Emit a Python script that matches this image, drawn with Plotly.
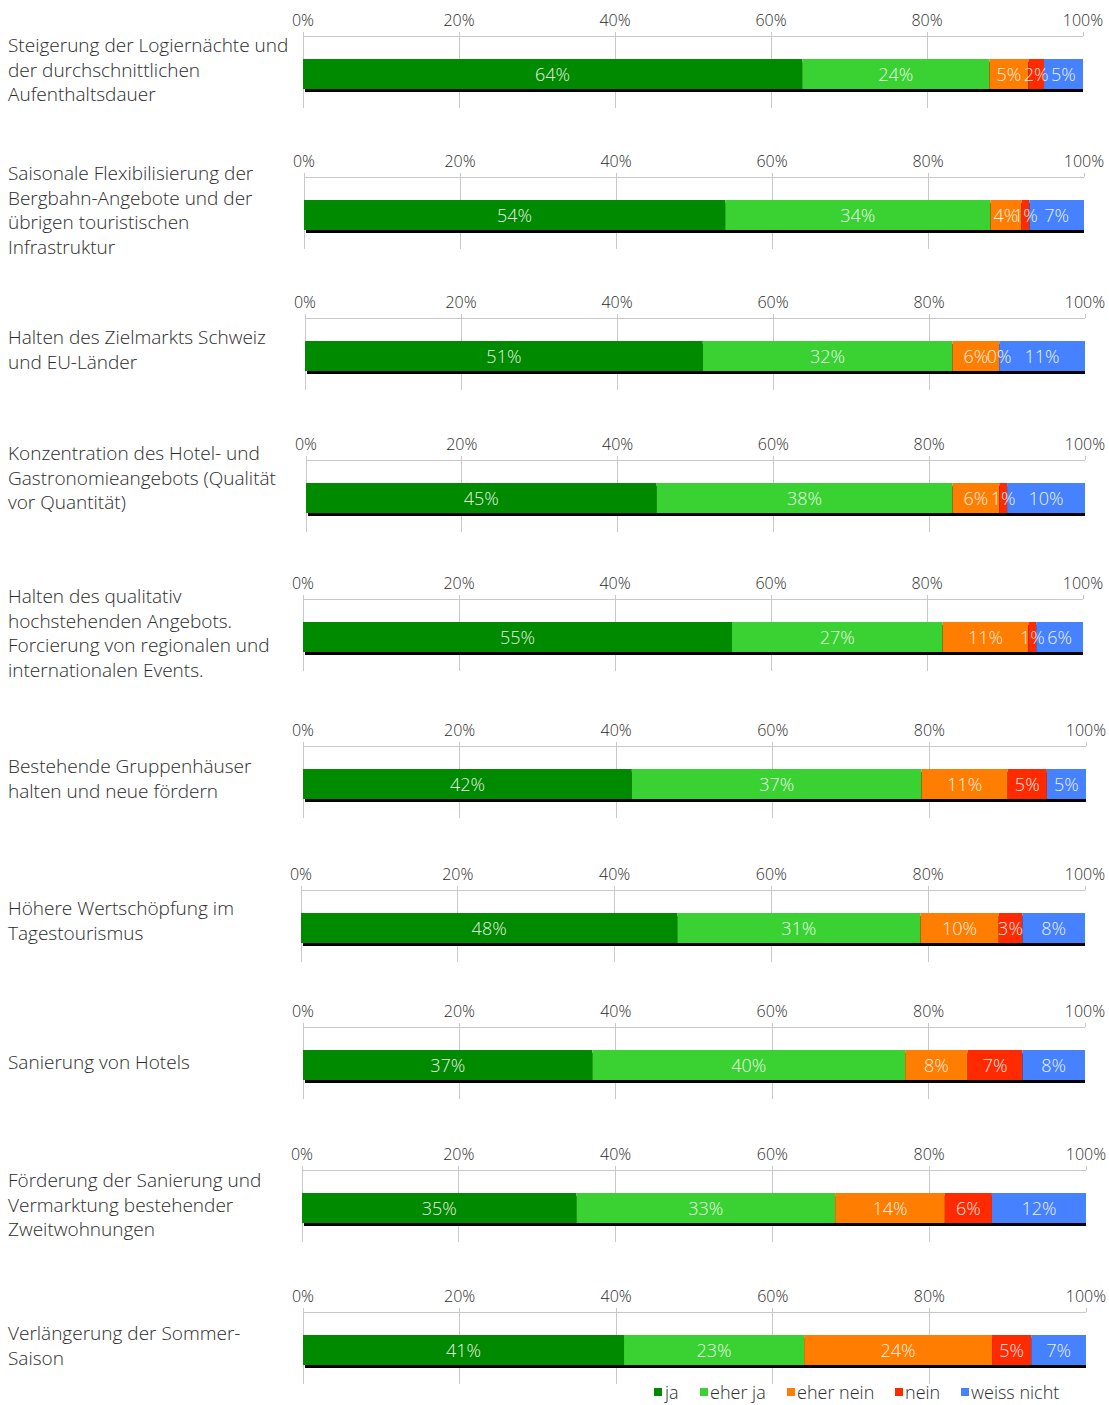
import numpy as np
import plotly.graph_objects as go

# Survey statements (left-hand labels)
statements = [
    "Steigerung der Logiernächte und<br>der durchschnittlichen<br>Aufenthaltsdauer",
    "Saisonale Flexibilisierung der<br>Bergbahn-Angebote und der<br>übrigen touristischen<br>Infrastruktur",
    "Halten des Zielmarkts Schweiz<br>und EU-Länder",
    "Konzentration des Hotel- und<br>Gastronomieangebots (Qualität<br>vor Quantität)",
    "Halten des qualitativ<br>hochstehenden Angebots.<br>Forcierung von regionalen und<br>internationalen Events.",
    "Bestehende Gruppenhäuser<br>halten und neue fördern",
    "Höhere Wertschöpfung im<br>Tagestourismus",
    "Sanierung von Hotels",
    "Förderung der Sanierung und<br>Vermarktung bestehender<br>Zweitwohnungen",
    "Verlängerung der Sommer-<br>Saison",
]

# Answer categories and shares in percent
answers = ["ja", "eher ja", "eher nein", "nein", "weiss nicht"]
ja = [64, 54, 51, 45, 55, 42, 48, 37, 35, 41]
eher_ja = [24, 34, 32, 38, 27, 37, 31, 40, 33, 23]
eher_nein = [5, 4, 6, 6, 11, 11, 10, 8, 14, 24]
nein = [2, 1, 0, 1, 1, 5, 3, 7, 6, 5]
weiss_nicht = [5, 7, 11, 10, 6, 5, 8, 8, 12, 7]

tick_values = [0, 20, 40, 60, 80, 100]
tick_labels = ["0%", "20%", "40%", "60%", "80%", "100%"]

colors = ["#008a00", "#3ad232", "#ff7d00", "#ff2a00", "#4682ff"]

W, H = 1109, 1405
FONT = "Open Sans"
WEIGHT = 300
TEXT_COL = "#2b2b2b"
GRID_COL = "#c8c8c8"

# Panel geometry in pixels
bar_center_px = [74, 215, 356, 498, 637, 784, 928, 1065, 1208, 1350]
x0_px = [303, 304, 305, 306, 303, 303, 301, 303, 302, 303]
x1_px = [1083, 1084, 1085, 1085, 1083, 1086, 1085, 1085, 1086, 1086]
label_center_px = [69, 210, 350, 478, 633, 779, 920, 1062, 1204, 1345]
BAR_H = 30
ABOVE, BELOW = 37, 34
TEXT_DY = -2  # nudge in-bar labels slightly down (y units are pixels)

series = np.array([ja, eher_ja, eher_nein, nein, weiss_nicht], dtype=float)

fig = go.Figure()
layout_axes = {}
annotations = []

for i in range(len(statements)):
    n = "" if i == 0 else str(i + 1)
    xa, ya = "x" + n, "y" + n
    vals = series[:, i]
    total = vals.sum()
    bases = np.concatenate([[0], np.cumsum(vals)[:-1]])
    span_px = x1_px[i] - x0_px[i]
    dx = 2 * 100 / span_px  # shadow offset of 2px in data units

    # drop shadow behind the stacked bar
    fig.add_trace(go.Bar(
        x=[total], base=[dx], y=[0], orientation="h", width=BAR_H, offset=-BAR_H / 2 - 3,
        marker=dict(color="#000000", line=dict(width=0)),
        xaxis=xa, yaxis=ya, showlegend=False, hoverinfo="skip",
    ))
    for k, name in enumerate(answers):
        fig.add_trace(go.Bar(
            x=[vals[k]], base=[bases[k]], y=[0], orientation="h", width=BAR_H, offset=-BAR_H / 2,
            marker=dict(color=colors[k], line=dict(width=0)),
            name=name, xaxis=xa, yaxis=ya, showlegend=False,
        ))
    fig.add_trace(go.Scatter(
        x=bases + vals / 2, y=np.zeros(len(vals)) + TEXT_DY, mode="text",
        text=[f"{int(v)}%" for v in vals],
        textfont=dict(family=FONT, size=18, weight=WEIGHT, color="rgba(255,255,255,0.92)"),
        xaxis=xa, yaxis=ya, showlegend=False, hoverinfo="skip",
    ))

    top = bar_center_px[i] - ABOVE
    bot = bar_center_px[i] + BELOW
    layout_axes["xaxis" + n] = dict(
        domain=[x0_px[i] / W, x1_px[i] / W], range=[0, 100], anchor=ya, side="top",
        tickvals=tick_values, ticktext=tick_labels, automargin=False,
        showline=True, linecolor=GRID_COL, linewidth=1,
        showgrid=True, gridcolor=GRID_COL, gridwidth=1,
        zeroline=True, zerolinecolor=GRID_COL, zerolinewidth=1,
        ticks="outside", ticklen=4, tickcolor=GRID_COL,
        tickfont=dict(family=FONT, size=16, weight=WEIGHT, color=TEXT_COL),
        fixedrange=True,
    )
    layout_axes["yaxis" + n] = dict(
        domain=[1 - bot / H, 1 - top / H], range=[-BELOW, ABOVE], anchor=xa,
        visible=False, fixedrange=True, automargin=False,
    )
    annotations.append(dict(
        text=statements[i], xref="paper", yref="paper", x=6 / W, y=1 - label_center_px[i] / H,
        xanchor="left", yanchor="middle", align="left", showarrow=False,
        font=dict(family=FONT, size=19, weight=WEIGHT, color=TEXT_COL),
    ))

# legend drawn as colour squares with text
legend_x_px = [654, 700, 787, 895, 961]
shapes = []
for k, name in enumerate(answers):
    shapes.append(dict(
        type="rect", xref="paper", yref="paper",
        x0=legend_x_px[k] / W, x1=(legend_x_px[k] + 8) / W,
        y0=1 - 1396 / H, y1=1 - 1388 / H,
        fillcolor=colors[k], line=dict(width=0),
    ))
    annotations.append(dict(
        text=name, xref="paper", yref="paper", x=(legend_x_px[k] + 9) / W, y=0,
        xanchor="left", yanchor="bottom", showarrow=False, borderpad=0,
        font=dict(family=FONT, size=18, weight=WEIGHT, color=TEXT_COL),
    ))

fig.update_layout(
    template="none",
    width=W, height=H, margin=dict(l=0, r=0, t=0, b=0, pad=0, autoexpand=False),
    paper_bgcolor="white", plot_bgcolor="white",
    barmode="overlay", showlegend=False,
    annotations=annotations, shapes=shapes,
    font=dict(family=FONT, color=TEXT_COL),
    **layout_axes,
)

fig.write_html("out.html")
